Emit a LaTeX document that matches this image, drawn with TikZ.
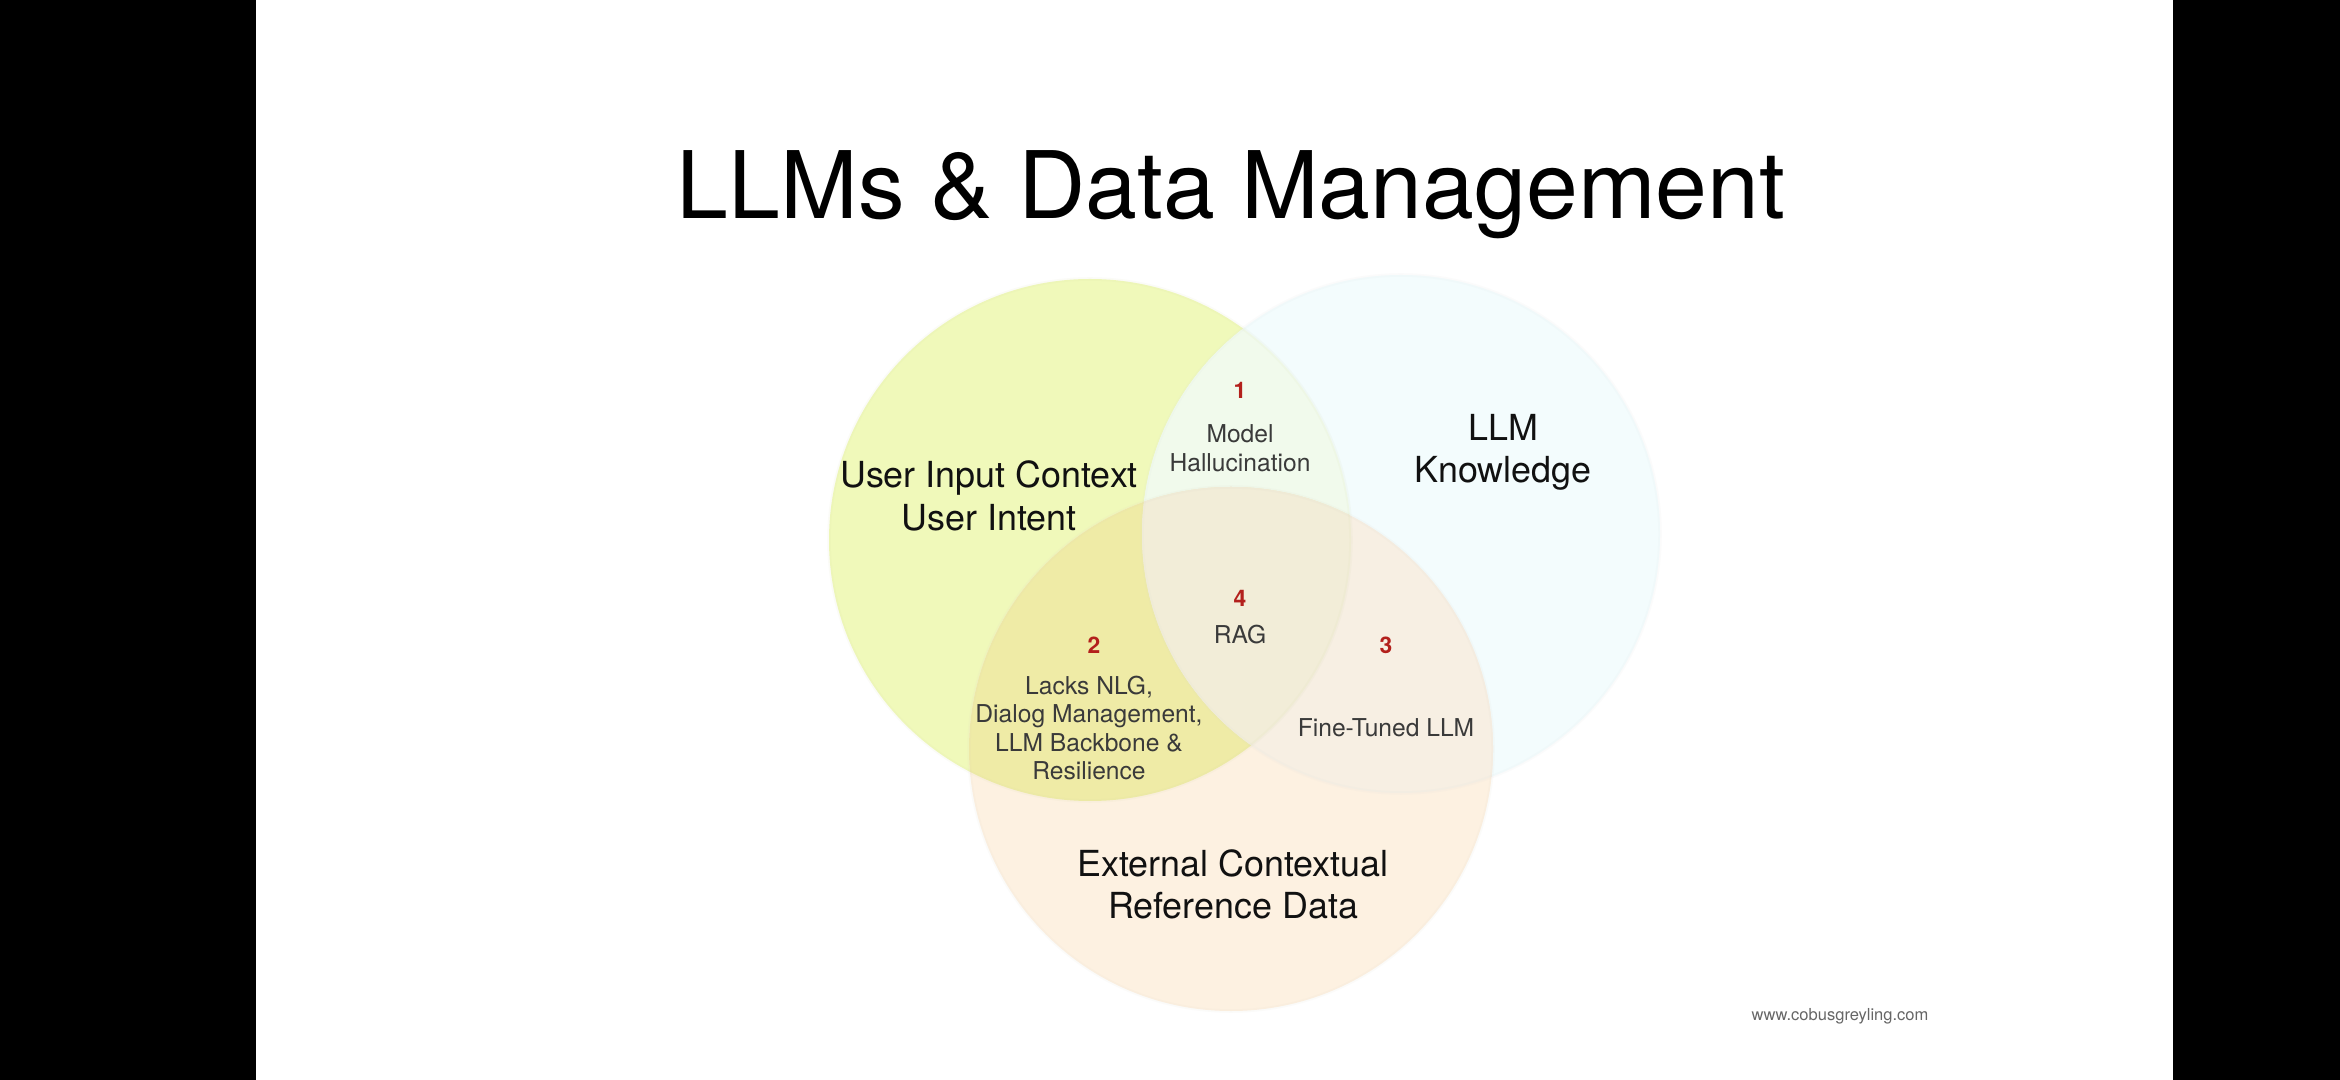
\documentclass[tikz,border=0pt]{standalone}
\usepackage{fontspec}
\setmainfont{TeX Gyre Heros}
\usepackage{tikz}
\usepackage{xcolor}
\usetikzlibrary{positioning}
\definecolor{darktext}{HTML}{111111}
\definecolor{greytext}{HTML}{3A3A3A}
\definecolor{numred}{HTML}{B3201C}
\definecolor{fillyellow}{HTML}{F0F9BA}
\definecolor{fillblue}{HTML}{F3FCFD}
\definecolor{fillorange}{HTML}{FDF1E1}
\definecolor{fillyb}{HTML}{F1FAEC}
\definecolor{fillyo}{HTML}{EFEBA6}
\definecolor{fillbo}{HTML}{F7EFE3}
\definecolor{fillybo}{HTML}{F2EDD8}

\begin{document}
\begin{tikzpicture}[x=0.01cm, y=-0.01cm,
    bigtext/.style={align=center, text=darktext, inner sep=0pt, font=\fontsize{10.2}{12}\selectfont},
    smalltext/.style={align=center, text=greytext, inner sep=0pt, font=\fontsize{7}{8.1}\selectfont},
    numtext/.style={text=numred, inner sep=0pt, font=\fontsize{6.5}{7}\selectfont\bfseries}]
    \useasboundingbox (0,0) rectangle (2340,1080);
    \fill[white] (0,0) rectangle (2340,1080);
    % side bars
    \fill[black] (0,0) rectangle (256,1080);
    \fill[black] (2173,0) rectangle (2340,1080);
    % circle centres
    \coordinate (ctrY) at (1090,540);
    \coordinate (ctrB) at (1401,534);
    \coordinate (ctrO) at (1231,749);
    % plain circles
    \fill[fillyellow] (ctrY) circle[radius=261];
    \fill[fillblue] (ctrB) circle[radius=259];
    \fill[fillorange] (ctrO) circle[radius=262];
    % overlaps
    \begin{scope}
        \clip (ctrY) circle[radius=261];
        \fill[fillyb] (ctrB) circle[radius=259];
        \fill[fillyo] (ctrO) circle[radius=262];
    \end{scope}
    \begin{scope}
        \clip (ctrB) circle[radius=259];
        \fill[fillbo] (ctrO) circle[radius=262];
        \clip (ctrY) circle[radius=261];
        \fill[fillybo] (ctrO) circle[radius=262];
    \end{scope}
    % soft rims
    \draw[fillyellow!85!black, opacity=0.08, line width=1pt] (ctrY) circle[radius=261];
    \draw[fillblue!85!black, opacity=0.08, line width=1pt] (ctrB) circle[radius=259];
    \draw[fillorange!85!black, opacity=0.08, line width=1pt] (ctrO) circle[radius=262];
    % title
    \node[text=black, inner sep=0pt, font=\fontsize{26.5}{30}\selectfont] (title) at (1231,195) {LLMs \& Data Management};
    % set labels
    \node[bigtext] (userlbl) at (989,496) {User Input Context\\User Intent};
    \node[bigtext] (llmlbl) at (1503,452) {LLM\\Knowledge};
    \node[bigtext] (extlbl) at (1233,884) {External Contextual\\Reference Data};
    % overlap labels
    \node[numtext] (num1) at (1240,390) {1};
    \node[smalltext] (hallu) at (1240,448) {Model\\Hallucination};
    \node[numtext] (num4) at (1240,598) {4};
    \node[smalltext] (rag) at (1240,635) {RAG};
    \node[numtext] (num2) at (1094,645) {2};
    \node[smalltext] (lacks) at (1089,728) {Lacks NLG,\\Dialog Management,\\LLM Backbone \&\\Resilience};
    \node[numtext] (num3) at (1386,645) {3};
    \node[smalltext] (finetuned) at (1386,728) {Fine-Tuned LLM};
    % footer
    \node[text=black!60, inner sep=0pt, font=\fontsize{4.7}{5}\selectfont] (site) at (1840,1016) {www.cobusgreyling.com};
\end{tikzpicture}
\end{document}
